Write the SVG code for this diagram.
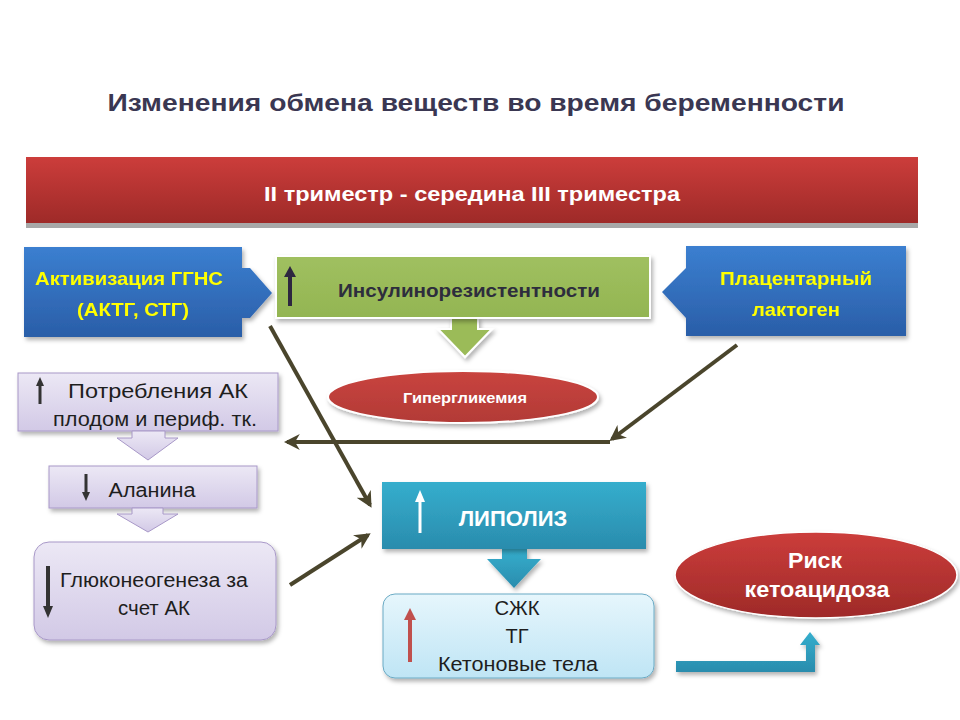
<svg xmlns="http://www.w3.org/2000/svg" width="960" height="720" viewBox="0 0 960 720">
<defs>
<linearGradient id="gRed" x1="0" y1="0" x2="0" y2="1"><stop offset="0" stop-color="#cc3d3b"/><stop offset="1" stop-color="#9e2a28"/></linearGradient>
<linearGradient id="gBlue" x1="0" y1="0" x2="0" y2="1"><stop offset="0" stop-color="#3b7fd0"/><stop offset="1" stop-color="#2a5ea8"/></linearGradient>
<linearGradient id="gGreen" x1="0" y1="0" x2="0" y2="1"><stop offset="0" stop-color="#a0c060"/><stop offset="1" stop-color="#93b552"/></linearGradient>
<linearGradient id="gLav" x1="0" y1="0" x2="0" y2="1"><stop offset="0" stop-color="#ece8f5"/><stop offset="1" stop-color="#d2c9e6"/></linearGradient>
<linearGradient id="gTeal" x1="0" y1="0" x2="0" y2="1"><stop offset="0" stop-color="#35aecd"/><stop offset="1" stop-color="#2a8cad"/></linearGradient>
<linearGradient id="gLBlue" x1="0" y1="0" x2="0" y2="1"><stop offset="0" stop-color="#e6f6fc"/><stop offset="1" stop-color="#bfe5f5"/></linearGradient>
<linearGradient id="gEll" x1="0" y1="0" x2="0" y2="1"><stop offset="0" stop-color="#c9443f"/><stop offset="1" stop-color="#b23a36"/></linearGradient>
<filter id="sh" x="-10%" y="-10%" width="125%" height="135%"><feDropShadow dx="2" dy="3" stdDeviation="2" flood-color="#000" flood-opacity="0.3"/></filter>
<marker id="ah" viewBox="0 0 10 10" refX="8" refY="5" markerWidth="4" markerHeight="4" orient="auto-start-reverse"><path d="M0,0 L10,5 L0,10 L3,5 z" fill="#4a452c"/></marker>
</defs>
<style>
.t{font-family:"Liberation Sans",Arial,sans-serif;text-anchor:middle}
.b{font-weight:bold}
.y{fill:#ffff00;font-size:19px;font-weight:bold}
.k{fill:#1e1e1e;font-size:20px}
.w{fill:#ffffff;font-weight:bold}
.con{stroke:#4a452c;stroke-width:4;fill:none}
</style>
<rect width="960" height="720" fill="#ffffff"/>
<text class="t b" x="476" y="111" font-size="24" fill="#3a3752" textLength="737" lengthAdjust="spacingAndGlyphs">Изменения обмена веществ во время беременности</text>

<g id="banner">
<rect x="26" y="223" width="892" height="5" fill="#a8a8a8"/>
<rect x="26" y="157" width="892" height="66" fill="url(#gRed)"/>
<text class="t w" x="472" y="201" font-size="20" textLength="416" lengthAdjust="spacingAndGlyphs">II триместр - середина III триместра</text>
</g>

<g id="aktg" filter="url(#sh)">
<path d="M24,247 H242 V268 H250 L272,293 L250,318 H242 V337 H24 Z" fill="url(#gBlue)"/>
<text class="t y" x="129" y="285" textLength="188" lengthAdjust="spacingAndGlyphs">Активизация ГГНС</text>
<text class="t y" x="133" y="316" textLength="112" lengthAdjust="spacingAndGlyphs">(АКТГ, СТГ)</text>
</g>

<g id="insulin">
<path d="M451,318 H478 V329 H492 L465,357 L438,329 H451 Z" fill="#9bbb59" stroke="#ffffff" stroke-width="2" filter="url(#sh)"/>
<rect x="276" y="256" width="374" height="62" fill="url(#gGreen)" stroke="#ffffff" stroke-width="2" filter="url(#sh)"/>
<line x1="290" y1="306" x2="290" y2="275" stroke="#2e2640" stroke-width="4"/>
<path d="M284,277 L290,266 L296,277 Z" fill="#2e2640"/>
<text class="t b" x="469" y="297" font-size="19" fill="#2d2d3d" textLength="262" lengthAdjust="spacingAndGlyphs">Инсулинорезистентности</text>
</g>

<g id="placenta" filter="url(#sh)">
<path d="M686,246 H906 V336 H686 V318 L662,292 L686,268 Z" fill="url(#gBlue)"/>
<text class="t y" x="796" y="285" textLength="152" lengthAdjust="spacingAndGlyphs">Плацентарный</text>
<text class="t y" x="796" y="316" textLength="88" lengthAdjust="spacingAndGlyphs">лактоген</text>
</g>

<g id="hyper">
<ellipse cx="463" cy="397" rx="135" ry="26" fill="url(#gEll)" stroke="#ffffff" stroke-width="2" filter="url(#sh)"/>
<text class="t w" x="465" y="403" font-size="15" textLength="124" lengthAdjust="spacingAndGlyphs">Гипергликемия</text>
</g>

<g id="potr">
<rect x="18" y="373" width="260" height="58" fill="url(#gLav)" stroke="#a898c8" stroke-width="1" filter="url(#sh)"/>
<line x1="40" y1="404" x2="40" y2="384" stroke="#333" stroke-width="3"/>
<path d="M36,386 L40,377 L44,386 Z" fill="#333"/>
<text class="t k" x="158" y="398" textLength="180" lengthAdjust="spacingAndGlyphs">Потребления АК</text>
<text class="t k" x="155" y="426" textLength="204" lengthAdjust="spacingAndGlyphs">плодом и периф. тк.</text>
</g>
<path id="arr1" d="M132,431 H165 V438 H178 L148,460 L117,438 H132 Z" fill="url(#gLav)" stroke="#a898c8" stroke-width="1"/>

<g id="alanin">
<rect x="49" y="466" width="208" height="42" fill="url(#gLav)" stroke="#a898c8" stroke-width="1" filter="url(#sh)"/>
<line x1="86" y1="474" x2="86" y2="494" stroke="#333" stroke-width="3"/>
<path d="M82,492 L86,501 L90,492 Z" fill="#333"/>
<text class="t k" x="152" y="497" textLength="87" lengthAdjust="spacingAndGlyphs">Аланина</text>
</g>
<path id="arr2" d="M132,508 H163 V514 H178 L148,532 L117,514 H132 Z" fill="url(#gLav)" stroke="#a898c8" stroke-width="1"/>

<g id="gluco">
<rect x="34" y="542" width="242" height="98" rx="15" fill="url(#gLav)" stroke="#a898c8" stroke-width="1" filter="url(#sh)"/>
<line x1="48" y1="566" x2="48" y2="608" stroke="#333" stroke-width="4"/>
<path d="M43,606 L48,618 L53,606 Z" fill="#333"/>
<text class="t k" x="154" y="587" textLength="188" lengthAdjust="spacingAndGlyphs">Глюконеогенеза за</text>
<text class="t k" x="154" y="615" textLength="72" lengthAdjust="spacingAndGlyphs">счет АК</text>
</g>

<g id="lipoliz">
<path d="M502,549 H527 V559 H541 L514,588 L487,559 H502 Z" fill="url(#gTeal)" filter="url(#sh)"/>
<rect x="382" y="482" width="264" height="67" fill="url(#gTeal)" filter="url(#sh)"/>
<line x1="420" y1="533" x2="420" y2="500" stroke="#ffffff" stroke-width="3"/>
<path d="M415,502 L420,490 L425,502 Z" fill="#ffffff"/>
<text class="t w" x="513" y="526" font-size="22">ЛИПОЛИЗ</text>
</g>

<g id="szhk">
<rect x="383" y="594" width="271" height="84" rx="12" fill="url(#gLBlue)" stroke="#6aaac4" stroke-width="1" filter="url(#sh)"/>
<line x1="410" y1="662" x2="410" y2="618" stroke="#c0504d" stroke-width="4"/>
<path d="M404,620 L410,608 L416,620 Z" fill="#c0504d"/>
<text class="t k" x="517" y="615" textLength="45" lengthAdjust="spacingAndGlyphs">СЖК</text>
<text class="t k" x="517" y="643">ТГ</text>
<text class="t k" x="518" y="671" textLength="160" lengthAdjust="spacingAndGlyphs">Кетоновые тела</text>
</g>

<g id="risk">
<ellipse cx="816" cy="575" rx="141" ry="43" fill="url(#gRed)" stroke="#ffffff" stroke-width="1.5" filter="url(#sh)"/>
<text class="t w" x="815" y="568" font-size="22" textLength="54" lengthAdjust="spacingAndGlyphs">Риск</text>
<text class="t w" x="817" y="597" font-size="22" textLength="145" lengthAdjust="spacingAndGlyphs">кетоацидоза</text>
</g>

<g id="connectors">
<line class="con" x1="270" y1="326" x2="370" y2="505" marker-end="url(#ah)"/>
<line class="con" x1="737" y1="345" x2="612" y2="439" marker-end="url(#ah)"/>
<line class="con" x1="610" y1="442" x2="287" y2="442" marker-end="url(#ah)"/>
<line class="con" x1="290" y1="585" x2="368" y2="535" marker-end="url(#ah)"/>
<path d="M676,661 H806 V645 H800 L810,632 L820,645 H815 V672 H676 Z" fill="url(#gTeal)" filter="url(#sh)"/>
</g>
</svg>
